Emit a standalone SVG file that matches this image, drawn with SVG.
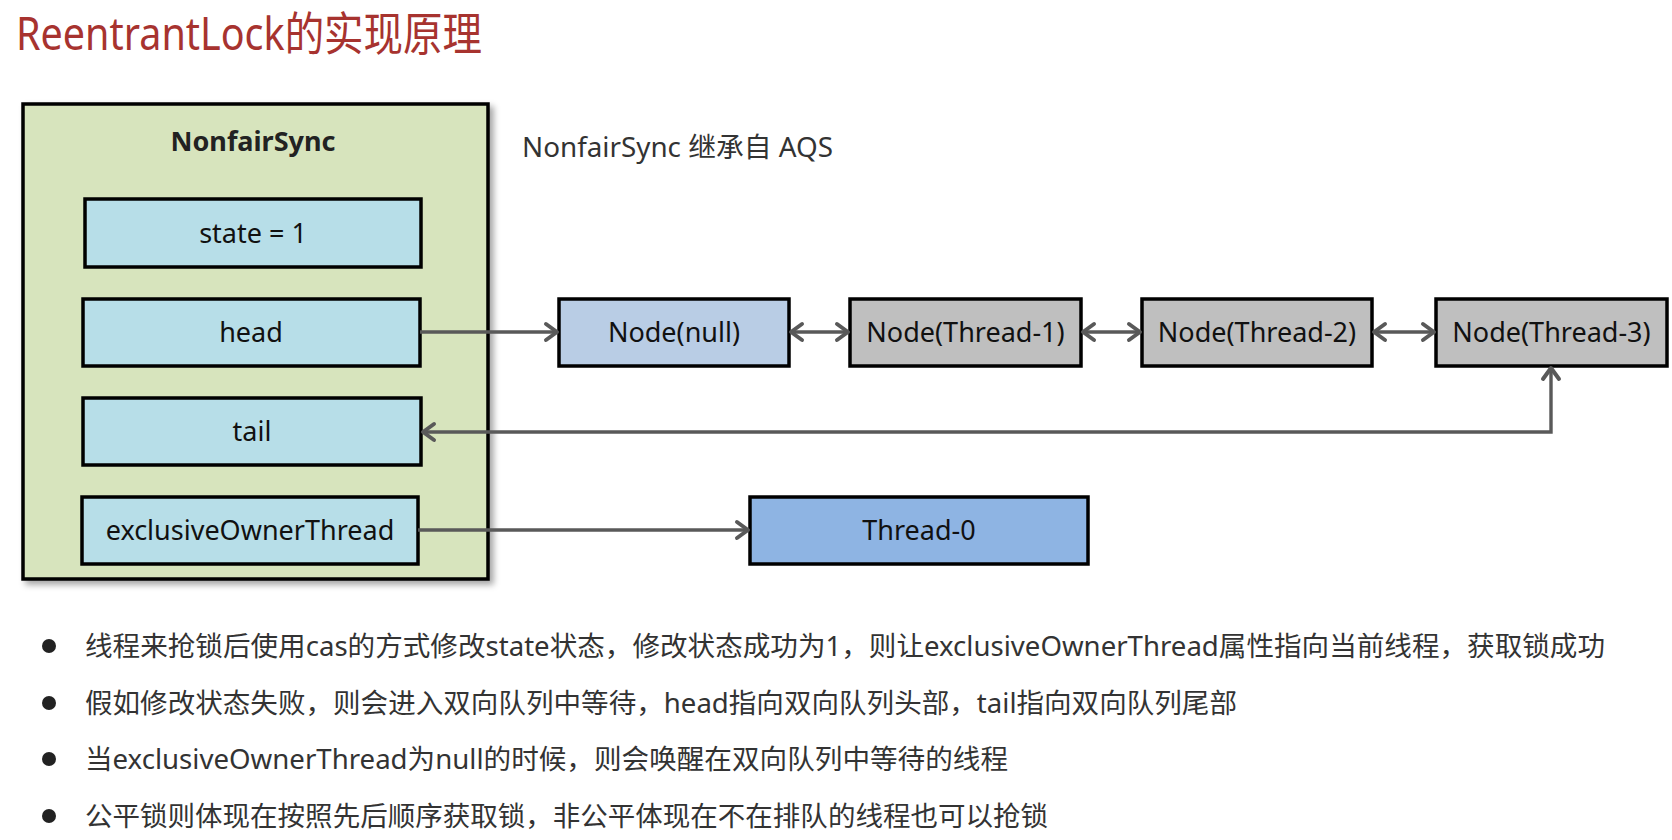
<svg xmlns="http://www.w3.org/2000/svg" width="1672" height="840" viewBox="0 0 1672 840">
<style>
  text { font-family: "Noto Sans", "Noto Sans CJK SC", sans-serif; }
  .box { stroke: #000; stroke-width: 3.5; }
  .field { fill: #B7DEE8; }
  .lbl { font-size: 27px; fill: #111; text-anchor: middle; }
  .bul { font-size: 27px; fill: #333; }
  .conn { fill: none; stroke: #595959; stroke-width: 3.4; }
</style>
<defs>
  <marker id="ah" markerUnits="userSpaceOnUse" markerWidth="20" markerHeight="22" refX="15" refY="10" orient="auto-start-reverse" viewBox="0 0 20 20">
    <path d="M4,2 L15,10 L4,18" fill="none" stroke="#595959" stroke-width="4" stroke-linecap="round" stroke-linejoin="round"/>
  </marker>
  <filter id="sh" x="-5%" y="-5%" width="115%" height="115%">
    <feDropShadow dx="4" dy="4" stdDeviation="3" flood-color="#000" flood-opacity="0.35"/>
  </filter>
</defs>
<rect width="1672" height="840" fill="#fff"/>

<text id="title" x="16" y="50" font-size="46" textLength="466" lengthAdjust="spacingAndGlyphs" fill="#A7332F">ReentrantLock的实现原理</text>

<g id="nonfairSync">
  <rect x="23" y="104" width="465" height="475" fill="#D7E4BD" class="box" filter="url(#sh)"/>
  <text x="253" y="151" font-size="27" font-weight="bold" fill="#222" text-anchor="middle">NonfairSync</text>
</g>
<g id="state">
  <rect x="85" y="199" width="336" height="68" class="box field"/>
  <text x="253" y="243" class="lbl">state = 1</text>
</g>
<g id="head">
  <rect x="83" y="299" width="337" height="67" class="box field"/>
  <text x="251" y="342" class="lbl">head</text>
</g>
<g id="tail">
  <rect x="83" y="398" width="338" height="67" class="box field"/>
  <text x="252" y="441" class="lbl">tail</text>
</g>
<g id="exclusiveOwnerThread">
  <rect x="82" y="497" width="336" height="67" class="box field"/>
  <text x="250" y="540" class="lbl">exclusiveOwnerThread</text>
</g>

<text id="note" x="522" y="157" font-size="27" fill="#333" textLength="311" lengthAdjust="spacingAndGlyphs">NonfairSync 继承自 AQS</text>

<g id="nodeNull">
  <rect x="559" y="299" width="230" height="67" class="box" fill="#B9CDE5"/>
  <text x="674" y="342" class="lbl">Node(null)</text>
</g>
<g id="nodeT1">
  <rect x="850" y="299" width="231" height="67" class="box" fill="#BFBFBF"/>
  <text x="965.5" y="342" class="lbl">Node(Thread-1)</text>
</g>
<g id="nodeT2">
  <rect x="1142" y="299" width="230" height="67" class="box" fill="#BFBFBF"/>
  <text x="1257" y="342" class="lbl">Node(Thread-2)</text>
</g>
<g id="nodeT3">
  <rect x="1436" y="299" width="231" height="67" class="box" fill="#BFBFBF"/>
  <text x="1551.5" y="342" class="lbl">Node(Thread-3)</text>
</g>
<g id="thread0">
  <rect x="750" y="497" width="338" height="67" class="box" fill="#8EB4E3"/>
  <text x="919" y="540" class="lbl">Thread-0</text>
</g>

<g id="connectors">
  <line x1="420" y1="332" x2="557" y2="332" class="conn" marker-end="url(#ah)"/>
  <line x1="791" y1="332" x2="848" y2="332" class="conn" marker-start="url(#ah)" marker-end="url(#ah)"/>
  <line x1="1083" y1="332" x2="1140" y2="332" class="conn" marker-start="url(#ah)" marker-end="url(#ah)"/>
  <line x1="1374" y1="332" x2="1434" y2="332" class="conn" marker-start="url(#ah)" marker-end="url(#ah)"/>
  <path d="M423,432 H1551 V368" class="conn" marker-start="url(#ah)" marker-end="url(#ah)"/>
  <line x1="418" y1="530" x2="748" y2="530" class="conn" marker-end="url(#ah)"/>
</g>

<g id="bullets">
  <circle cx="49" cy="646" r="7" fill="#222"/>
  <text x="85" y="656" class="bul" textLength="1520" lengthAdjust="spacingAndGlyphs">线程来抢锁后使用cas的方式修改state状态，修改状态成功为1，则让exclusiveOwnerThread属性指向当前线程，获取锁成功</text>
  <circle cx="49" cy="703" r="7" fill="#222"/>
  <text x="85" y="713" class="bul" textLength="1152" lengthAdjust="spacingAndGlyphs">假如修改状态失败，则会进入双向队列中等待，head指向双向队列头部，tail指向双向队列尾部</text>
  <circle cx="49" cy="759" r="7" fill="#222"/>
  <text x="85" y="769" class="bul" textLength="923" lengthAdjust="spacingAndGlyphs">当exclusiveOwnerThread为null的时候，则会唤醒在双向队列中等待的线程</text>
  <circle cx="49" cy="816" r="7" fill="#222"/>
  <text x="85" y="826" class="bul" textLength="963" lengthAdjust="spacingAndGlyphs">公平锁则体现在按照先后顺序获取锁，非公平体现在不在排队的线程也可以抢锁</text>
</g>
</svg>
